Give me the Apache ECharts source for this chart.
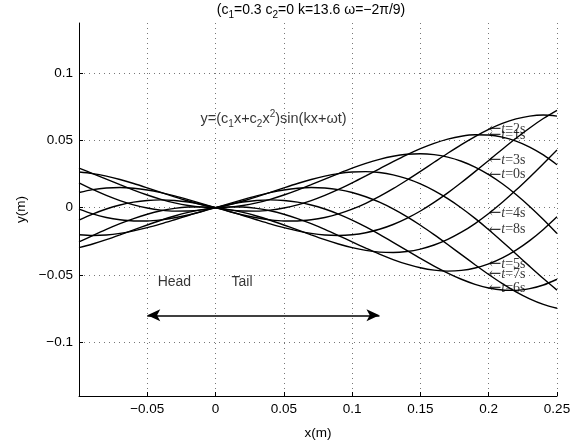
<!DOCTYPE html>
<html><head><meta charset="utf-8">
<script src="https://cdn.jsdelivr.net/npm/echarts@6/dist/echarts.min.js"></script>
<style>html,body{margin:0;padding:0;background:#fff}#c{width:586px;height:445px}</style>
</head><body><div id="c"></div>
<script>
const xs = [-0.10,-0.09,-0.08,-0.07,-0.06,-0.05,-0.04,-0.03,-0.02,-0.01,0,0.01,0.02,0.03,0.04,0.05,0.06,0.07,0.08,0.09,0.10,0.11,0.12,0.13,0.14,0.15,0.16,0.17,0.18,0.19,0.20,0.21,0.22,0.23,0.24,0.25];
const t0 = [0.02934,0.02539,0.02126,0.01711,0.01311,0.00943,0.00621,0.00357,0.00161,0.00041,0,0.00041,0.00161,0.00357,0.00621,0.00943,0.01311,0.01711,0.02126,0.02539,0.02934,0.03291,0.03593,0.03824,0.03969,0.04014,0.03947,0.03761,0.03452,0.03016,0.02456,0.01775,0.00983,0.00094,-0.00878,-0.01917];
const t1 = [0.02651,0.02535,0.02345,0.02093,0.01797,0.01472,0.01136,0.00805,0.00495,0.00222,0,-0.0016,-0.00248,-0.00257,-0.00184,-0.00027,0.00212,0.00528,0.00912,0.01355,0.01844,0.02362,0.02894,0.03421,0.03923,0.04383,0.04779,0.05095,0.05314,0.0542,0.054,0.05245,0.04949,0.04507,0.03921,0.03192];
const t2 = [0.01128,0.01345,0.01466,0.01496,0.01442,0.01313,0.01119,0.00876,0.00597,0.003,0,-0.00286,-0.00541,-0.00752,-0.00903,-0.00985,-0.00987,-0.00902,-0.00728,-0.00463,-0.00109,0.00328,0.00841,0.01416,0.02042,0.02701,0.03375,0.04045,0.04689,0.05287,0.05818,0.06261,0.06598,0.06811,0.06885,0.06808];
const t3 = [-0.00923,-0.00475,-0.00098,0.002,0.00413,0.00539,0.00579,0.00537,0.0042,0.00237,0,-0.00278,-0.00581,-0.00894,-0.012,-0.01482,-0.01724,-0.0191,-0.02028,-0.02064,-0.0201,-0.01859,-0.01606,-0.0125,-0.00795,-0.00245,0.00392,0.01101,0.0187,0.02681,0.03513,0.04347,0.05159,0.05927,0.06628,0.07238];
const t4 = [-0.02542,-0.02072,-0.01617,-0.01191,-0.0081,-0.00487,-0.00232,-0.00053,0.00046,0.00063,0,-0.0014,-0.00349,-0.00618,-0.00935,-0.01285,-0.01654,-0.02024,-0.02379,-0.027,-0.02972,-0.03177,-0.03301,-0.03333,-0.0326,-0.03076,-0.02775,-0.02357,-0.01824,-0.0118,-0.00435,0.004,0.01308,0.02271,0.0327,0.04282];
const t5 = [-0.02972,-0.027,-0.02379,-0.02024,-0.01654,-0.01285,-0.00935,-0.00618,-0.00349,-0.0014,0,0.00063,0.00046,-0.00053,-0.00232,-0.00487,-0.0081,-0.01191,-0.01617,-0.02072,-0.02542,-0.03008,-0.03452,-0.03855,-0.042,-0.04468,-0.04644,-0.04713,-0.04664,-0.04488,-0.0418,-0.03735,-0.03156,-0.02447,-0.01619,-0.00679];
const t6 = [-0.0201,-0.02064,-0.02028,-0.0191,-0.01724,-0.01482,-0.012,-0.00894,-0.00581,-0.00278,0,0.00237,0.0042,0.00537,0.00579,0.00539,0.00413,0.002,-0.00098,-0.00475,-0.00923,-0.01432,-0.01988,-0.02574,-0.03174,-0.03769,-0.04339,-0.04863,-0.05322,-0.05697,-0.05969,-0.06122,-0.06144,-0.06022,-0.0575,-0.05321];
const t7 = [-0.00109,-0.00463,-0.00728,-0.00902,-0.00987,-0.00985,-0.00903,-0.00752,-0.00541,-0.00286,0,0.003,0.00597,0.00876,0.01119,0.01313,0.01442,0.01496,0.01466,0.01345,0.01128,0.00814,0.00407,-0.00089,-0.00664,-0.01306,-0.02004,-0.02738,-0.0349,-0.04239,-0.04965,-0.05645,-0.06256,-0.06779,-0.0719,-0.07474];
const t8 = [0.01844,0.01355,0.00912,0.00528,0.00212,-0.00027,-0.00184,-0.00257,-0.00248,-0.0016,0,0.00222,0.00495,0.00805,0.01136,0.01472,0.01797,0.02093,0.02345,0.02535,0.02651,0.0268,0.02611,0.02439,0.02157,0.01767,0.01268,0.00668,-0.00024,-0.00798,-0.01637,-0.02526,-0.03442,-0.04363,-0.05267,-0.0613];
const curves = [t0,t1,t2,t3,t4,t5,t6,t7,t8];
const timeNames = ['0s','1s','2s','3s','4s','5s','6s','7s','8s'];
const labelX = 0.2;
const yTicks = [-0.1,-0.05,0,0.05,0.1];
const arrowStart = [-0.05,-0.08];
const arrowEnd = [0.12,-0.08];
const headPos = [-0.0424,-0.055];
const tailPos = [0.0117,-0.055];
const formulaPos = [-0.011,0.066];

const chart = echarts.init(document.getElementById('c'), null, {renderer:'canvas'});
const sansFont = 'Liberation Sans, Arial, Helvetica, sans-serif';
const serifFont = 'Liberation Serif, Times New Roman, serif';
const fmt = v => String(v).replace('-', '\u2212');

const series = curves.map((arr, k) => ({
  type:'line', name:'t='+timeNames[k], data: xs.map((x,i)=>[x, arr[i]]),
  showSymbol:false, smooth:0.3, silent:true,
  lineStyle:{color:'#000', width:1.4}, z:3
}));
const li = xs.indexOf(labelX);
series.push({
  type:'scatter', symbolSize:0, silent:true, z:5,
  data: curves.map((arr,k)=>({value:[labelX, arr[li]], name:timeNames[k]})),
  label:{show:true, position:'right', distance:0, formatter: p => '{r|\u2190}{i|t}{a|=' + p.name + '}',
    rich:{r:{fontFamily:'DejaVu Serif, DejaVu Sans, serif', fontSize:15, color:'#000', lineHeight:16},
          a:{fontFamily:serifFont, fontSize:14, color:'#000', lineHeight:16},
          i:{fontFamily:serifFont, fontSize:14, fontStyle:'italic', color:'#000', lineHeight:16}}},
  markLine:{silent:true, symbol:['arrow','arrow'], symbolSize:[9,13], animation:false,
    lineStyle:{color:'#000', width:1.6, type:'solid'}, label:{show:false},
    data:[[{coord:arrowStart},{coord:arrowEnd}]]}
});
series.push({
  type:'scatter', symbolSize:0, silent:true, z:5,
  data:[{value:headPos, name:'Head'},{value:tailPos, name:'Tail'}],
  label:{show:true, position:'right', distance:0, formatter:'{b}', fontFamily:sansFont, fontSize:14, color:'#000'}
});
series.push({
  type:'scatter', symbolSize:0, silent:true, z:5,
  data:[{value:formulaPos, name:'f'}],
  label:{show:true, position:'right', distance:0,
    formatter:'{n|y=(c}{s|1}{n|x+c}{s|2}{n|x}{p|2}{n|)sin(kx+\u03c9t)}',
    rich:{n:{fontFamily:sansFont, fontSize:14.5, color:'#000'}, s:{fontFamily:sansFont, fontSize:10, color:'#000', padding:[10,0,0,0]}, p:{fontFamily:sansFont, fontSize:10, color:'#000', padding:[0,0,10,0]}}}
});

chart.setOption({
  animation:false,
  backgroundColor:'#fff',
  grid:{left:79, right:29, top:23, bottom:45, containLabel:false},
  xAxis:{type:'value', min:-0.1, max:0.25, interval:0.05,
    name:'x(m)', nameLocation:'middle', nameGap:30, nameTextStyle:{fontFamily:sansFont, fontSize:13.5, color:'#000'},
    axisLine:{show:true, onZero:false, lineStyle:{color:'#000', width:1}},
    axisTick:{show:true, inside:true, length:4, lineStyle:{color:'#000'}},
    axisLabel:{showMinLabel:false, margin:6, fontFamily:sansFont, fontSize:13.5, color:'#000', formatter: v => fmt(Math.round(v*100)/100)},
    splitLine:{show:true, lineStyle:{color:'#777', width:1, type:[1,4]}}
  },
  yAxis:{type:'value', min:-0.14, max:0.1373,
    name:'y(m)', nameLocation:'middle', nameGap:45, nameRotate:90, nameTextStyle:{fontFamily:sansFont, fontSize:13.5, color:'#000'},
    axisLine:{show:true, onZero:false, lineStyle:{color:'#000', width:1}},
    axisTick:{show:true, inside:true, length:4, customValues:yTicks, lineStyle:{color:'#000'}},
    axisLabel:{customValues:yTicks, margin:6, fontFamily:sansFont, fontSize:13.5, color:'#000', formatter: v => fmt(Math.round(v*100)/100)},
    splitLine:{show:true, lineStyle:{color:'#777', width:1, type:[1,4]}}
  },
  graphic:[{type:'text', x:311, y:10, style:{
    text:'{n|(c}{s|1}{n|=0.3 c}{s|2}{n|=0 k=13.6 \u03c9=\u22122\u03c0/9)}',
    align:'center', verticalAlign:'middle',
    rich:{n:{fontFamily:sansFont, fontSize:14, fill:'#000'}, s:{fontFamily:sansFont, fontSize:10, fill:'#000', padding:[10,0,0,0]}}
  }}],
  series: series
});
</script></body></html>
